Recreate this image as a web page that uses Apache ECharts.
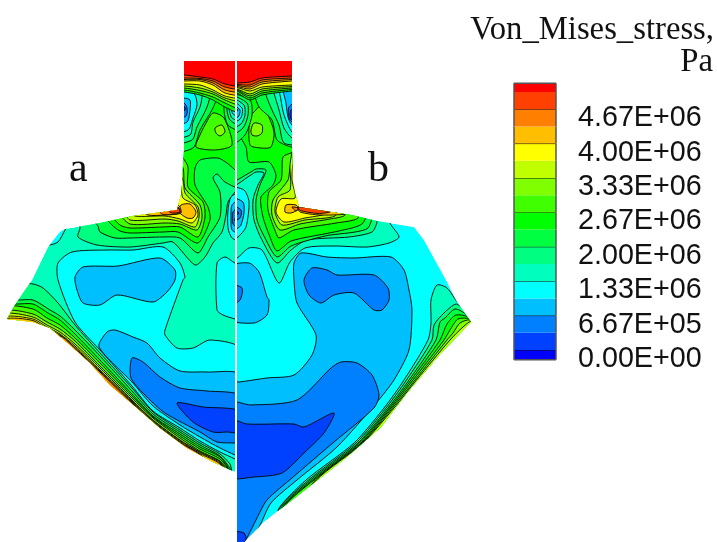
<!DOCTYPE html>
<html><head><meta charset="utf-8">
<style>html,body{margin:0;padding:0;background:#fff}#c{width:717px;height:542px}</style>
<script src="https://cdn.jsdelivr.net/npm/echarts@6/dist/echarts.min.js"></script>
</head><body><div id="c"></div>
<script>
const levelColors=['#0000ff','#0040ff','#0080ff','#00bfff','#00ffff','#00ffbf','#00ff80','#00ff40','#00ff00','#40ff00','#80ff00','#bfff00','#ffff00','#ffbf00','#ff8000','#ff4000','#ff0000'];
const legendLabels=['0.00E+00','6.67E+05','1.33E+06','2.00E+06','2.67E+06','3.33E+06','4.00E+06','4.67E+06'];
const legendTicks=[0,666667,1333334,2000001,2666668,3333335,4000002,4666669];
const legendBands=[-190000,0,333333,666667,1000000,1333334,1666667,2000001,2333334,2666668,3000000,3333335,3666667,4000002,4333334,4666669,5000000,5170000];

const silhouetteL=[[184,61],[235,61],[235,472],[213,462],[187,448],[160,428],[137,408],[110,385],[90,363],[70,345],[50,328],[33,322],[7,319],[15,305],[23,293],[32,280],[48,247],[60,232],[65,229],[100,223],[133,216],[177,210],[178,206],[181,195],[182,185],[183,165],[184,150]];
const silhouetteR=[[237,61],[292,61],[292,150],[293,183],[295,193],[299,207],[351,215],[377,221],[414,227],[424,240],[446,280],[457,302],[471,322],[441,353],[407,393],[381,427],[347,457],[301,493],[264,522],[244,542],[237,542]];

const wingCloseL=[[240,490],[100,400],[0,335]];
const wingCloseR=[[290,520],[480,330]];
const topCloseL=[[240,50],[150,50],[150,200]];

const contoursL=[
[5,silhouetteL],
[4,[[58,263],[72,252],[107,250],[133,250],[163,247],[180,263],[185,277],[183,280],[165,330],[165,335],[177,348],[193,348],[210,340],[240,349],[240,462],[235,459],[220,452],[200,441],[180,428],[153,411],[132,386],[100,350],[75,322],[58,280]]],
[4,[[68,225],[65,230],[58,242],[48,245],[40,240],[55,225]]],
[4,[[217,263],[225,257],[235,263],[240,263],[240,320],[235,319],[223,315],[217,310]]],
[3,[[75,277],[83,267],[118,266],[160,258],[175,270],[175,280],[167,292],[153,302],[117,295],[100,305],[83,303],[77,290]]],
[3,[[99,347],[107,332],[115,330],[133,337],[147,343],[160,358],[180,371],[207,372],[240,375],[240,457],[235,455],[220,448],[200,437],[180,425],[153,406],[132,382]]],
[2,[[132,358],[143,362],[160,377],[180,388],[207,391],[240,396],[240,444],[235,443],[217,442],[200,432],[165,413],[147,397],[131,378]]],
[1,[[177,403],[203,407],[240,411],[240,432],[227,432],[213,432],[193,422]]],
[6,[[20,285],[33,284],[43,288],[58,303],[75,325],[100,353],[132,388],[153,412],[180,430],[200,443],[220,454],[230,464],[232,472],...wingCloseL]],
[7,[[5,298],[18,300],[33,300],[50,310],[60,316],[75,330],[100,356],[132,391],[153,414],[180,432],[200,445],[220,456],[231,470],...wingCloseL]],
[8,[[5,302],[15,304],[33,304],[48,313],[60,320],[75,334],[100,360],[132,394],[153,416],[180,434],[200,447],[220,457],[230,471],...wingCloseL]],
[9,[[5,307],[33,309],[47,318],[60,325],[75,338],[100,363],[132,396],[153,417],[180,436],[200,449],[220,459],[230,471],...wingCloseL]],
[10,[[5,311],[33,314],[47,322],[60,329],[75,341],[100,366],[132,398],[153,418],[180,438],[200,451],[220,461],[230,472],...wingCloseL]],
[11,[[5,314],[33,317],[47,325],[60,332],[75,344],[100,368],[132,400],[153,420],[180,440],[200,452],[220,462],...wingCloseL]],
[12,[[5,317],[33,319],[47,327],[60,334],[75,346],[100,370],[132,401],[153,420.5],[180,440.5],[200,452.5],[220,463],...wingCloseL]],
[13,[[5,319],[33,320.5],[47,329],[60,335],[75,347.5],[100,371],[132,402],[153,421.5],[180,441.5],[200,453.5],[220,464],...wingCloseL]],
[14,[[60,336],[75,348.5],[100,372],[132,403],[153,422.5],[180,442.5],[200,454.5],...wingCloseL]],
[6,[[72,218],[80,227],[78,237],[97,245],[130,247],[163,243],[173,242],[195,265],[205,257],[213,243],[222,232],[226,215],[228,202],[235,192],[240,186],...topCloseL]],
[7,[[92,218],[98,226],[100,232],[115,238],[130,238],[163,237],[180,238],[198,253],[208,237],[220,217],[220,192],[213,178],[217,174],[225,182],[240,187],...topCloseL]],
[8,[[105,215],[112,225],[120,231],[130,233],[163,232],[178,232],[198,243],[210,220],[208,207],[195,185],[195,168],[200,160],[218,158],[227,163],[240,172],...topCloseL]],
[4,[[240,193],[231,197],[228,210],[228,228],[232,238],[240,240]]],
[3,[[240,200],[232,205],[231,218],[232,230],[240,233]]],
[2,[[240,207],[233,212],[233,224],[240,228]]],
[1,[[240,213],[234.5,220],[240,224]]],
[9,[[112,214],[120,225],[130,228],[163,227],[180,227],[198,237],[205,217],[203,202],[188,187],[188,167],[183,158],[175,150],[150,190]]],
[10,[[120,212],[130,224],[165,223],[180,224],[197,230],[202,218],[200,205],[185,188],[183,168],[175,160],[150,195]]],
[11,[[125,210],[130,220],[165,219],[178,221],[195,227],[199,217],[198,207],[185,193],[183,180],[175,170],[155,200]]],
[12,[[130,210],[135,216],[165,216],[180,219],[192,223],[198,215],[195,205],[183,198],[180,185],[170,195]]],
[13,[[181,205],[190,204],[196,212],[193,218],[187,218],[179,212]]],
[13,[[140,208],[178,205],[181,213],[165,215],[148,215]]],
[14,[[158,209],[178,207],[180,213],[163,214.5]]],
[15,[[168,210],[178,208],[180,212],[172,213]]],
[9,[[213,113],[205,125],[200,135],[196,147],[215,150],[232,145],[224,118]]],
[10,[[215,128],[222,125],[225,132],[220,136],[216,133]]],
[7,[[170,151],[193,148],[200,130],[213,108],[217,93],[200,80],[170,80]]],
[6,[[170,143],[192,140],[197,127],[207,107],[210,92],[200,80],[170,80]]],
[5,[[170,137],[190,135],[193,122],[200,107],[202,93],[195,80],[170,80]]],
[4,[[170,132],[188,130],[193,118],[197,105],[195,95],[184,85],[170,85]]],
[3,[[170,125],[187,122],[190,110],[190,100],[184,98],[170,98]]],
[2,[[170,122],[186,116],[187,108],[184,103],[170,103]]],
[1,[[170,118],[185,110],[184,106],[170,106]]],
[7,[[227,85],[224,110],[228,125],[240,130],[240,85]]],
[6,[[229,85],[227,110],[230,120],[240,125],[240,85]]],
[5,[[231,85],[229,108],[232,118],[240,120],[240,85]]],
[4,[[233,85],[231,107],[233,114],[240,116],[240,85]]],
[3,[[240,100],[233,106],[240,112]]],
[8,[[170,92],[184,92],[200,95],[213,100],[225,107],[240,112],[240,50],[170,50]]],
[9,[[170,90],[184,90],[200,93],[213,97],[225,103],[240,108],[240,50],[170,50]]],
[10,[[170,88],[184,88],[200,90.5],[213,94],[225,100],[240,104],[240,50],[170,50]]],
[11,[[170,86],[184,86],[200,88],[213,92],[225,98],[240,100],[240,50],[170,50]]],
[12,[[170,84],[184,84],[200,85],[213,90],[225,96],[240,97],[240,50],[170,50]]],
[13,[[170,82],[184,81],[200,81],[213,85],[225,93],[240,94],[240,50],[170,50]]],
[14,[[170,80],[184,79.5],[200,79.5],[213,83],[225,90],[240,91],[240,50],[170,50]]],
[15,[[170,78],[184,78],[200,78.5],[213,81],[225,87],[240,88],[240,50],[170,50]]],
[16,[[170,75],[184,75],[200,77],[213,79],[225,84],[240,85],[240,50],[170,50]]]
];

const contoursR=[
[4,silhouetteR],
[5,[[230,258],[237,258],[249,248],[262,250],[279,283],[290,262],[305,248],[334,246],[367,247],[389,243],[399,237],[390,223],[384,200],[230,50]]],
[3,[[294,263],[301,253],[327,257],[354,258],[391,257],[404,270],[409,290],[412,310],[409,350],[394,380],[377,402],[337,447],[297,480],[271,503],[259,527],[245,545],[230,545],[230,382],[239,382],[267,378],[294,375],[312,355],[316,335],[297,303],[294,280]]],
[2,[[304,280],[309,295],[321,303],[334,295],[354,293],[374,310],[382,310],[389,300],[388,288],[374,275],[337,275],[327,270],[312,268]]],
[2,[[230,403],[251,405],[297,400],[331,368],[341,362],[357,363],[372,375],[379,395],[374,408],[334,442],[292,478],[267,500],[256,520],[251,530],[242,545],[230,545]]],
[1,[[230,420],[247,424],[294,424],[304,427],[334,413],[324,433],[304,453],[282,473],[254,477],[230,477]]],
[1,[[230,532],[244,533],[246,540],[240,545],[230,545]]],
[3,[[230,267],[249,263],[259,272],[267,297],[269,300],[267,315],[254,323],[230,319]]],
[2,[[230,285],[242,288],[240,300],[230,305]]],
[5,[[431,323],[431,300],[437,285],[447,288],[458,303],[480,325],[440,370],[290,515],[278,510],[306,480],[354,443],[384,408],[404,380],[428,340]]],
[6,[[464,310],[456,304],[444,313],[434,325],[432,340],[406.5,380],[386,408],[356,443],[308.5,480],[279,509],...wingCloseR]],
[7,[[467,315],[455,309],[445,318],[440,322],[436,340],[409,380],[388,408],[358,443],[310.5,480],[281,508],...wingCloseR]],
[8,[[468,317],[456,315],[447,324],[440,340],[411,380],[389.5,408],[359.5,443],[312.5,480],[283,507],...wingCloseR]],
[9,[[470,319],[458,319],[450,330],[444,340],[413,380],[391,408],[361,443],[314,480],[285,506],...wingCloseR]],
[10,[[470,320],[460,323],[453,333],[447,340],[415,380],[392.5,408],[362,443],[315.5,480],...wingCloseR]],
[11,[[472,321],[463,327],[450,340],[416.5,380],[394,408],[363,443],[316.5,480],...wingCloseR]],
[6,[[230,186],[251,175],[256,172],[264,173],[258,185],[253,200],[254,220],[262,240],[277,263],[291,250],[307,240],[349,237],[372,232],[377,222],[378,200],[300,50],[230,50]]],
[7,[[230,181],[251,172],[256,169],[266,170],[260,185],[256,200],[257,220],[265,238],[277,257],[291,246],[325,236],[355,232],[368,228],[372,212],[300,50],[230,50]]],
[4,[[230,188],[244,190],[249,202],[246,227],[238,237],[230,240]]],
[3,[[230,198],[243,202],[244,213],[241,225],[238,228],[230,230]]],
[2,[[230,205],[241,210],[240,218],[230,222]]],
[1,[[230,210],[239,213],[230,218]]],
[8,[[230,61],[237,130],[246,147],[249,162],[269,162],[276,175],[273,185],[261,197],[263,217],[270,237],[277,251],[291,241],[339,231],[362,224],[366,210],[300,190],[300,50],[230,50]]],
[9,[[291,153],[283,157],[281,180],[269,192],[268,210],[276,233],[279,238],[294,230],[336,223],[358,218],[360,200],[300,150]]],
[10,[[291,165],[288,180],[273,200],[272,215],[280,230],[300,224],[330,219],[345,215],[345,200],[300,165]]],
[11,[[290,190],[278,197],[275,212],[282,225],[305,220],[335,216],[335,205],[296,180],[293,150],[290,165]]],
[12,[[295,198],[281,199],[276,212],[284,222],[305,218],[325,214],[325,208],[296,185],[293,165],[292,180]]],
[13,[[286,205],[296,205],[299,209],[291,213],[285,212]]],
[13,[[298,207],[320,209],[345,214],[320,215],[300,212]]],
[15,[[298,207],[318,209.5],[330,212],[318,213.5],[300,210.5]]],
[14,[[292,207],[298,208],[296,211]]],
[9,[[250,117],[250,145],[261,148],[271,147],[274,132],[267,113],[261,105],[256,110]]],
[10,[[251,130],[254,123],[262,125],[262,133],[257,136],[252,135]]],
[7,[[250,75],[254,93],[259,107],[272,120],[277,140],[291,147],[300,147],[300,75]]],
[6,[[262,75],[266,95],[272,110],[279,125],[284,143],[300,143],[300,75]]],
[5,[[270,75],[274,93],[279,110],[284,128],[292,138],[300,138],[300,75]]],
[4,[[278,75],[281,100],[284,115],[292,132],[300,132],[300,75]]],
[3,[[283,85],[286,103],[288,117],[292,125],[300,125],[300,85]]],
[2,[[300,100],[289,107],[289,118],[292,122],[300,122]]],
[1,[[300,104],[291,110],[290,116],[292,120],[300,120]]],
[7,[[230,95],[250,100],[252,115],[245,135],[230,145]]],
[6,[[230,96],[247,103],[248,115],[243,128],[230,135]]],
[5,[[230,98],[244,105],[245,115],[241,124],[230,128]]],
[4,[[230,100],[242,108],[242,115],[239,120],[230,122]]],
[3,[[230,103],[240,110],[238,117],[230,118]]],
[2,[[230,106],[238,110],[230,115]]],
[8,[[230,93],[237,93],[250,100],[262,95],[292,91],[300,91],[300,50],[230,50]]],
[9,[[230,91],[237,91],[250,98],[262,93],[292,89.5],[300,89.5],[300,50],[230,50]]],
[10,[[230,90],[237,90],[250,96],[262,91],[292,88],[300,88],[300,50],[230,50]]],
[11,[[230,89],[237,89],[250,94],[262,89],[292,86.5],[300,86.5],[300,50],[230,50]]],
[12,[[230,87.5],[237,87.5],[250,91],[262,87],[292,85],[300,85],[300,50],[230,50]]],
[13,[[230,86.5],[237,86.5],[250,89],[262,84],[292,81],[300,81],[300,50],[230,50]]],
[14,[[230,85.5],[237,85.5],[250,87],[262,82],[292,79.5],[300,79.5],[300,50],[230,50]]],
[15,[[230,84.5],[237,84.5],[250,85],[262,80],[292,78],[300,78],[300,50],[230,50]]],
[16,[[230,83],[237,83],[250,82],[262,78],[292,76],[300,76],[300,50],[230,50]]]
];

function contourSeries(name,list,clip){
  return {type:'custom',name,coordinateSystem:'cartesian2d',xAxisIndex:0,yAxisIndex:0,silent:true,animation:false,z:2,
    data:list.map((c,i)=>[i]),
    renderItem(params,api){
      const c=list[api.value(0)];
      const first=c[1]===clip;
      return {type:'polygon',shape:{points:c[1].map(p=>api.coord(p)),smooth:first?0:0.25},
        style:{fill:levelColors[c[0]],stroke:first?null:'#000',lineWidth:first?0:0.9},
        clipPath:{type:'polygon',shape:{points:clip.map(p=>api.coord(p))}}};
    }};
}

const option={
  animation:false,backgroundColor:'#fff',
  grid:[{left:0,top:0,width:717,height:542},{left:514,top:74.8,width:42,height:309.6}],
  xAxis:[{type:'value',gridIndex:0,min:0,max:717,show:false},{type:'value',gridIndex:1,min:0,max:1,show:false}],
  yAxis:[{type:'value',gridIndex:0,min:0,max:542,inverse:true,show:false},
    {type:'value',gridIndex:1,min:-666667,max:5333336,interval:666667,position:'right',
     axisLine:{show:false},axisTick:{show:false},splitLine:{show:false},
     axisLabel:{show:true,margin:22,align:'left',verticalAlign:'top',lineHeight:18,color:'#111',fontFamily:'Liberation Sans',fontSize:28.7,
       formatter:(v,i)=>legendLabels[i-1]||''}}],
  series:[
    contourSeries('a',contoursL,silhouetteL),
    contourSeries('b',contoursR,silhouetteR),
    {type:'custom',name:'legend',coordinateSystem:'cartesian2d',xAxisIndex:1,yAxisIndex:1,silent:true,animation:false,z:3,
      clip:false,
      data:legendBands.slice(0,-1).map((v,i)=>[i]),
      renderItem(params,api){
        const i=api.value(0);
        const a=api.coord([0,legendBands[i]]),b=api.coord([1,legendBands[i+1]]);
        const children=[{type:'rect',shape:{x:a[0],y:b[1],width:b[0]-a[0],height:a[1]-b[1]},style:{fill:levelColors[i],stroke:null}}];
        if(legendTicks.includes(legendBands[i+1]))children.push({type:'line',shape:{x1:a[0],y1:b[1],x2:b[0],y2:b[1]},style:{stroke:'#111',lineWidth:1}});
        if(i===0||i===legendBands.length-2)children.push({type:'line',shape:{x1:a[0],y1:i===0?a[1]:b[1],x2:b[0],y2:i===0?a[1]:b[1]},style:{stroke:'#555',lineWidth:1.5}});
        children.push({type:'line',shape:{x1:a[0],y1:a[1],x2:a[0],y2:b[1]},style:{stroke:'#555',lineWidth:1.5}});
        children.push({type:'line',shape:{x1:b[0],y1:a[1],x2:b[0],y2:b[1]},style:{stroke:'#555',lineWidth:1.5}});
        return {type:'group',children};
      }}
  ],
  graphic:[
    {type:'text',left:69,top:149,style:{text:'a',font:'42px "Liberation Serif"',fill:'#111'}},
    {type:'text',left:368,top:149,style:{text:'b',font:'42px "Liberation Serif"',fill:'#111'}},
    {type:'text',right:3,top:14,style:{text:'Von_Mises_stress,',font:'32.7px "Liberation Serif"',fill:'#111',textAlign:'right'}},
    {type:'text',right:4,top:46,style:{text:'Pa',font:'32.7px "Liberation Serif"',fill:'#111',textAlign:'right'}}
  ]
};
echarts.init(document.getElementById('c'),null,{renderer:'canvas'}).setOption(option);
</script></body></html>
